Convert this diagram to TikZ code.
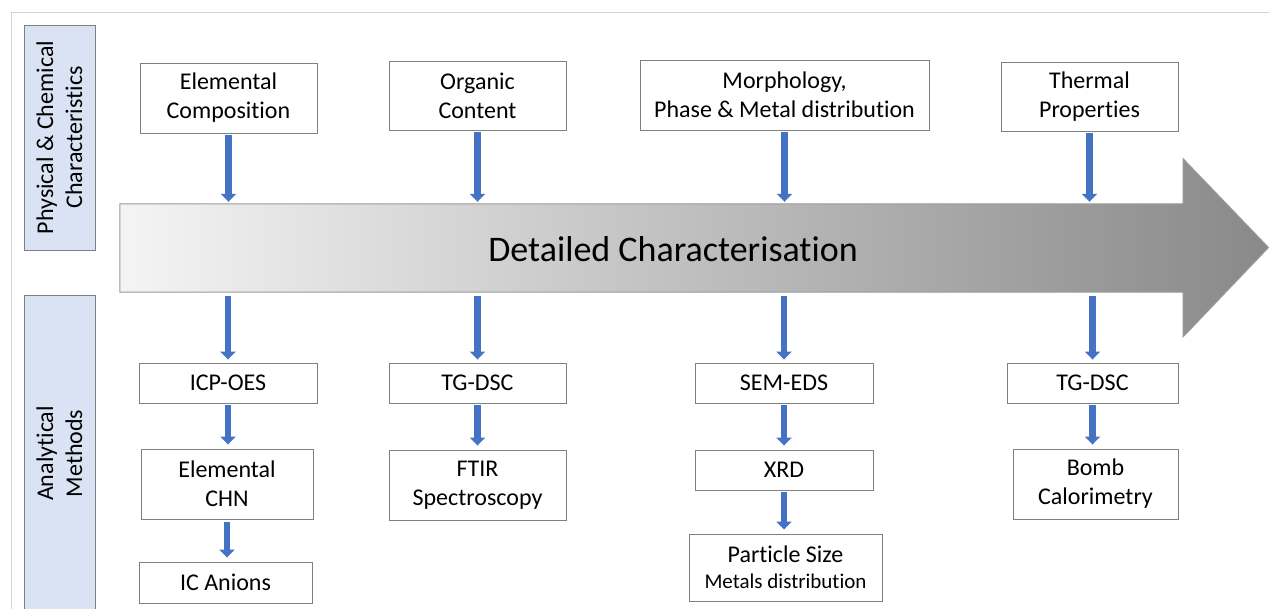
\documentclass[tikz,border=0pt]{standalone}
\usepackage{fontspec}
\setmainfont{Carlito}[Ligatures=NoCommon]
\usetikzlibrary{arrows.meta}

\definecolor{methodblue}{HTML}{4472C4}
\definecolor{bandblue}{HTML}{DAE3F3}
\definecolor{edgegray}{HTML}{7F7F7F}
\definecolor{framegray}{HTML}{D4D4D4}
\definecolor{flowlight}{HTML}{F4F4F4}
\definecolor{flowdark}{HTML}{898989}
\definecolor{flowedge}{HTML}{9A9A9A}

\begin{document}
\begin{tikzpicture}[x=1pt,y=-1pt,
  box/.style={draw=edgegray, fill=white, line width=0.9pt, align=center,
    inner sep=0pt, font=\fontsize{24}{29}\selectfont},
  sidebar/.style={draw=edgegray, fill=bandblue, line width=0.9pt, rotate=90,
    align=center, inner sep=0pt, font=\fontsize{24}{29}\selectfont},
  feed/.style={line width=6.5pt, draw=methodblue,
    -{Triangle[width=15pt,length=8pt]}},
]
\useasboundingbox (0,0) rectangle (1269,609);
\clip (0,0) rectangle (1269,609);

% outer frame
\draw[framegray, line width=1pt] (11,612) -- (11,13) -- (1272,13);

% side labels
\node[sidebar, minimum width=225, minimum height=71] (phys) at (59.5,137.5)
  {Physical \& Chemical\\Characteristics};
\node[sidebar, minimum width=317, minimum height=71] (anal) at (59.5,453.5)
  {Analytical\\Methods};

% central flow arrow
\node[minimum width=1063, minimum height=88, inner sep=0pt] (band) at (651.5,248) {};
\path[draw=flowedge, line width=1pt, left color=flowlight, right color=flowdark]
  (band.north west) -- (band.north east) -- ++(0,-45) -- (1268.5,247.5)
  -- (1183,337) -- (band.south east) -- (band.south west) -- cycle;
\node[font=\fontsize{36}{43}\selectfont] (title) at (673,249) {Detailed Characterisation};

% characteristics
\node[box, minimum width=177, minimum height=70] (elem) at (228.5,98) {Elemental\\Composition};
\node[box, minimum width=177, minimum height=69] (org) at (477.5,95.5) {Organic\\Content};
\node[box, minimum width=289, minimum height=70] (morph) at (784.5,95) {Morphology,\\Phase \& Metal distribution};
\node[box, minimum width=177, minimum height=69] (therm) at (1089.5,96.5) {Thermal\\Properties};

% analytical methods
\node[box, minimum width=178, minimum height=40] (icp) at (228,383) {ICP-OES};
\node[box, minimum width=172, minimum height=70] (chn) at (227,484) {Elemental\\CHN};
\node[box, minimum width=173, minimum height=41] (ic) at (225.5,582.5) {IC Anions};

\node[box, minimum width=177, minimum height=40] (tga) at (477.5,383) {TG-DSC};
\node[box, minimum width=177, minimum height=70] (ftir) at (477.5,485) {FTIR\\Spectroscopy};

\node[box, minimum width=178, minimum height=40] (sem) at (784,383) {SEM-EDS};
\node[box, minimum width=178, minimum height=40] (xrd) at (784,470) {XRD};
\node[box, minimum width=193, minimum height=67, font=\fontsize{24}{26}\selectfont] (psize) at (785.5,567.5)
  {Particle Size\\{\fontsize{21}{26}\selectfont Metals distribution}};

\node[box, minimum width=171, minimum height=40] (tgb) at (1092.5,383) {TG-DSC};
\node[box, minimum width=165, minimum height=70] (bomb) at (1095.5,484) {Bomb\\Calorimetry};

% feeds into the flow
\foreach \n in {elem,org,morph,therm}
  \draw[feed, shorten <=2pt, shorten >=2pt] (\n.south) -- (\n.south |- band.north);

% feeds out of the flow
\foreach \n in {icp,tga,sem,tgb}
  \draw[feed, shorten <=4pt, shorten >=3pt] (\n.north |- band.south) -- (\n.north);

% method chains
\draw[feed, shorten <=2pt, shorten >=4pt] (icp.south) -- (icp.south |- chn.north);
\draw[feed, shorten <=3pt, shorten >=4pt] (chn.south) -- (chn.south |- ic.north);
\draw[feed, shorten <=2pt, shorten >=4pt] (tga) -- (ftir);
\draw[feed, shorten <=2pt, shorten >=4pt] (sem) -- (xrd);
\draw[feed, shorten <=2pt, shorten >=4pt] (xrd.south) -- (xrd.south |- psize.north);
\draw[feed, shorten <=2pt, shorten >=4pt] (tgb.south) -- (tgb.south |- bomb.north);
\end{tikzpicture}
\end{document}
